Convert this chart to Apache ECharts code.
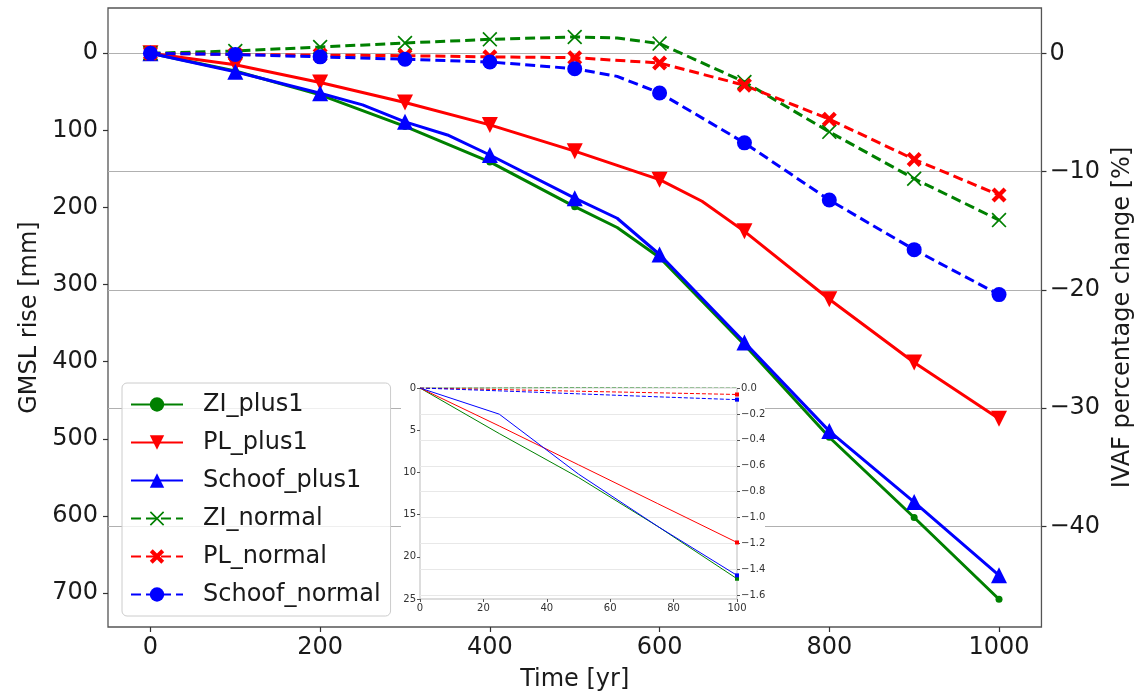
<!DOCTYPE html>
<html>
<head>
<meta charset="utf-8">
<script src="https://cdn.jsdelivr.net/npm/echarts@6/dist/echarts.min.js"></script>
<style>html,body{margin:0;padding:0;background:#fff}#c{width:1143px;height:697px}</style>
</head>
<body>
<div id="c"></div>
<script>
// ---------- main chart data ----------
const zIPlus1Years = [0,100,200,300,400,500,550,600,700,800,900,1000];
const zIPlus1 = [0,23,54,95,141,199,226,265,378,498,602,708];
const plPlus1Years = [0,100,200,300,400,500,600,650,700,800,900,1000];
const plPlus1 = [0,15,38,64,93,127,164,192,231,319,401,474];
const schPlus1Years = [0,100,200,250,300,350,400,500,550,600,700,800,900,1000];
const schPlus1 = [0,24,52,67,89,106,132,188,214,261,375,490,582,677];
const zINormalYears = [0,100,200,300,400,500,550,600,700,800,900,1000];
const zINormal = [0,0.2,0.53,0.87,1.18,1.38,1.3,0.82,-2.42,-6.64,-10.6,-14.1];
const plNormalYears = [0,100,200,300,400,500,600,700,800,900,1000];
const plNormal = [0,-0.1,-0.15,-0.2,-0.3,-0.37,-0.82,-2.7,-5.57,-8.97,-11.98];
const schNormalYears = [0,100,200,300,400,500,550,600,700,800,900,1000];
const schNormal = [0,-0.1,-0.3,-0.5,-0.73,-1.3,-1.95,-3.35,-7.57,-12.4,-16.6,-20.4];

// tick labels
const xTicks = [0,200,400,600,800,1000];
const leftTicks = [0,100,200,300,400,500,600,700];
const rightTicks = [0,-10,-20,-30,-40];

// ---------- inset data ----------
const insetYears = [0,25,50,75,100];
const insetZIPlus1 = [0,5.4,10.6,16.4,22.6];
const insetPLPlus1 = [0,4.5,9.1,13.7,18.3];
const insetSchPlus1 = [0,3.1,10.2,16.4,22.2];
const insetZINormal = [0,0.002,0.004,0.006,0.008];
const insetPLNormal = [0,-0.012,-0.025,-0.037,-0.05];
const insetSchNormal = [0,-0.022,-0.045,-0.068,-0.09];
const insetXTicks = [0,20,40,60,80,100];
const insetLeftTicks = [0,5,10,15,20,25];
const insetRightTicks = [0,-0.2,-0.4,-0.6,-0.8,-1.0,-1.2,-1.4,-1.6];

const FONT = 'DejaVu Sans';
const GREEN = '#008000', RED = '#ff0000', BLUE = '#0000ff';
const minus = s => String(s).replace('-', '\u2212');
const plain = v => minus(String(v));

function pts(xs, ys, markEvery) {
  return xs.map((x, i) => {
    const item = { value: [x, ys[i]] };
    if (markEvery && x % markEvery !== 0) item.symbol = 'none';
    return item;
  });
}
const lastOnly = (xs, ys) => xs.map((x, i) => ({ value: [x, ys[i]], symbol: i === xs.length - 1 ? 'rect' : 'none' }));

const TRI_DOWN = 'path://M0,0 L10,0 L5,10 Z';
const BIG_X = 'path://M2,0 L5,3 L8,0 L10,2 L7,5 L10,8 L8,10 L5,7 L2,10 L0,8 L3,5 L0,2 Z';
const THIN_X = 'path://M0.8,0 L5,4.2 L9.2,0 L10,0.8 L5.8,5 L10,9.2 L9.2,10 L5,5.8 L0.8,10 L0,9.2 L4.2,5 L0,0.8 Z';

const chart = echarts.init(document.getElementById('c'), null, { renderer: 'canvas' });

const axisText = { fontFamily: FONT, fontSize: 24, color: '#1a1a1a' };
const insetText = { fontFamily: FONT, fontSize: 10, color: '#333' };
const noLine = { show: false, onZero: false };

const option = {
  animation: false,
  backgroundColor: '#fff',
  textStyle: { fontFamily: FONT },
  graphic: [{
    type: 'rect', z: 20, silent: true,
    shape: { x: 401, y: 378, width: 364, height: 236 },
    style: { fill: '#fff' }
  }],
  grid: [
    { left: 108, right: 101, top: 8, bottom: 70, show: true, borderColor: '#555', borderWidth: 1.3, backgroundColor: 'transparent', z: 0 },
    { left: 420, right: 406, top: 388, bottom: 98, show: true, borderColor: '#bbb', borderWidth: 1, backgroundColor: '#fff', z: 21 }
  ],
  legend: {
    data: ['ZI_plus1', 'PL_plus1', 'Schoof_plus1', 'ZI_normal', 'PL_normal', 'Schoof_normal'],
    orient: 'vertical', left: 122, top: 383, width: 274,
    padding: [8, 10, 8, 8],
    itemWidth: 52, itemHeight: 18, itemGap: 11,
    backgroundColor: 'rgba(255,255,255,0.8)', borderColor: '#cccccc', borderWidth: 1, borderRadius: 5,
    selectedMode: false, z: 30,
    textStyle: { fontFamily: FONT, fontSize: 24, color: '#1a1a1a', lineHeight: 27, padding: [0, 0, 0, 15] }
  },
  xAxis: [
    { type: 'value', gridIndex: 0, min: -50, max: 1050,
      name: 'Time [yr]', nameLocation: 'middle', nameGap: 41, nameTextStyle: axisText,
      axisLine: noLine,
      axisTick: { show: true, length: 5, inside: false, lineStyle: { color: '#333', width: 1.2 }, customValues: xTicks },
      axisLabel: { ...axisText, margin: 9, customValues: xTicks, formatter: plain },
      splitLine: { show: false } },
    { type: 'value', gridIndex: 1, min: 0, max: 100, z: 22,
      axisLine: noLine,
      axisTick: { show: true, length: 3, lineStyle: { color: '#555' }, customValues: insetXTicks },
      axisLabel: { ...insetText, margin: 4, customValues: insetXTicks, formatter: plain },
      splitLine: { show: false } }
  ],
  yAxis: [
    { type: 'value', gridIndex: 0, inverse: true, min: -58.6, max: 744, position: 'left',
      name: 'GMSL rise [mm]', nameLocation: 'middle', nameGap: 63, nameRotate: 90, nameTextStyle: axisText,
      axisLine: noLine,
      axisTick: { show: true, length: 5, lineStyle: { color: '#333', width: 1.2 }, customValues: leftTicks },
      axisLabel: { ...axisText, margin: 10, customValues: leftTicks, formatter: plain },
      splitLine: { show: false } },
    { type: 'value', gridIndex: 0, min: -48.5, max: 3.83, position: 'right',
      name: 'IVAF percentage change [%]', nameLocation: 'middle', nameGap: 67, nameRotate: 90, nameTextStyle: axisText,
      axisLine: noLine,
      axisTick: { show: true, length: 5, lineStyle: { color: '#333', width: 1.2 }, customValues: rightTicks },
      axisLabel: { ...axisText, margin: 8, customValues: rightTicks, formatter: plain },
      splitLine: { show: true, lineStyle: { color: '#b0b0b0', width: 1.2 } } },
    { type: 'value', gridIndex: 1, inverse: true, min: 0, max: 25, position: 'left', z: 22,
      axisLine: noLine,
      axisTick: { show: true, length: 3, lineStyle: { color: '#555' }, customValues: insetLeftTicks },
      axisLabel: { ...insetText, margin: 4, customValues: insetLeftTicks, formatter: plain },
      splitLine: { show: false } },
    { type: 'value', gridIndex: 1, min: -1.628, max: 0, position: 'right', z: 22,
      axisLine: noLine,
      axisTick: { show: true, length: 3, lineStyle: { color: '#555' }, customValues: insetRightTicks },
      axisLabel: { ...insetText, margin: 4, customValues: insetRightTicks, formatter: v => minus(v.toFixed(1)) },
      splitLine: { show: true, lineStyle: { color: '#e8e8e8', width: 1 } } }
  ],
  series: [
    { name: 'ZI_plus1', type: 'line', xAxisIndex: 0, yAxisIndex: 0, data: pts(zIPlus1Years, zIPlus1, 100),
      symbol: 'circle', symbolSize: 7, color: GREEN, lineStyle: { color: GREEN, width: 3 }, itemStyle: { color: GREEN }, z: 3 },
    { name: 'PL_plus1', type: 'line', xAxisIndex: 0, yAxisIndex: 0, data: pts(plPlus1Years, plPlus1, 100),
      symbol: TRI_DOWN, symbolSize: 16, color: RED, lineStyle: { color: RED, width: 3 }, itemStyle: { color: RED }, z: 3 },
    { name: 'Schoof_plus1', type: 'line', xAxisIndex: 0, yAxisIndex: 0, data: pts(schPlus1Years, schPlus1, 100),
      symbol: 'triangle', symbolSize: 16, color: BLUE, lineStyle: { color: BLUE, width: 3 }, itemStyle: { color: BLUE }, z: 3 },
    { name: 'ZI_normal', type: 'line', xAxisIndex: 0, yAxisIndex: 1, data: pts(zINormalYears, zINormal, 100),
      symbol: THIN_X, symbolSize: 15, color: GREEN, lineStyle: { color: GREEN, width: 3, type: [10, 5] }, itemStyle: { color: GREEN }, z: 4 },
    { name: 'PL_normal', type: 'line', xAxisIndex: 0, yAxisIndex: 1, data: pts(plNormalYears, plNormal, 100),
      symbol: BIG_X, symbolSize: 15, color: RED, lineStyle: { color: RED, width: 3, type: [10, 5] }, itemStyle: { color: RED }, z: 4 },
    { name: 'Schoof_normal', type: 'line', xAxisIndex: 0, yAxisIndex: 1, data: pts(schNormalYears, schNormal, 100),
      symbol: 'circle', symbolSize: 15, color: BLUE, lineStyle: { color: BLUE, width: 3, type: [10, 5] }, itemStyle: { color: BLUE }, z: 4 },

    { name: 'in_ZI_plus1', type: 'line', xAxisIndex: 1, yAxisIndex: 2, data: lastOnly(insetYears, insetZIPlus1),
      symbolSize: 4, lineStyle: { color: GREEN, width: 1 }, itemStyle: { color: GREEN }, z: 23 },
    { name: 'in_PL_plus1', type: 'line', xAxisIndex: 1, yAxisIndex: 2, data: lastOnly(insetYears, insetPLPlus1),
      symbolSize: 4, lineStyle: { color: RED, width: 1 }, itemStyle: { color: RED }, z: 23 },
    { name: 'in_Schoof_plus1', type: 'line', xAxisIndex: 1, yAxisIndex: 2, data: lastOnly(insetYears, insetSchPlus1),
      symbolSize: 4, lineStyle: { color: BLUE, width: 1 }, itemStyle: { color: BLUE }, z: 23 },
    { name: 'in_ZI_normal', type: 'line', xAxisIndex: 1, yAxisIndex: 3, data: lastOnly(insetYears, insetZINormal),
      symbolSize: 4, lineStyle: { color: GREEN, width: 1, type: [4, 2] }, itemStyle: { color: GREEN }, z: 23 },
    { name: 'in_PL_normal', type: 'line', xAxisIndex: 1, yAxisIndex: 3, data: lastOnly(insetYears, insetPLNormal),
      symbolSize: 4, lineStyle: { color: RED, width: 1, type: [4, 2] }, itemStyle: { color: RED }, z: 23 },
    { name: 'in_Schoof_normal', type: 'line', xAxisIndex: 1, yAxisIndex: 3, data: lastOnly(insetYears, insetSchNormal),
      symbolSize: 4, lineStyle: { color: BLUE, width: 1, type: [4, 2] }, itemStyle: { color: BLUE }, z: 23 }
  ]
};
chart.setOption(option);
</script>
</body>
</html>
